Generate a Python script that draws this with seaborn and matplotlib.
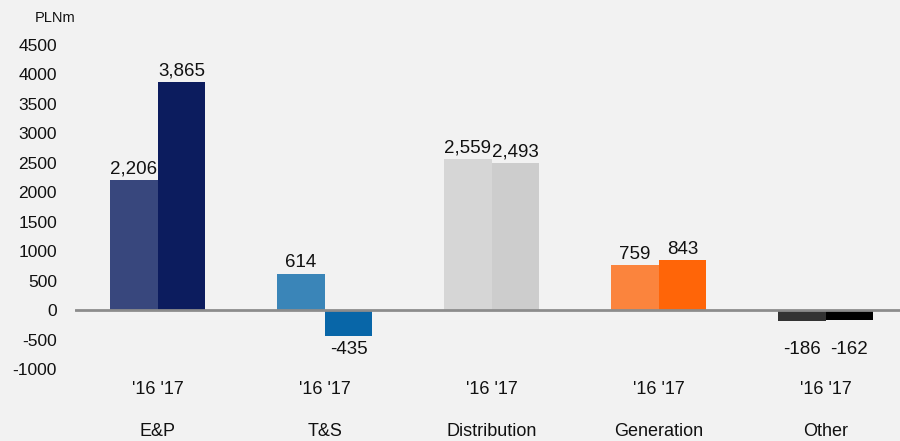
import pandas as pd
import numpy as np
import seaborn as sns
import matplotlib.pyplot as plt

# data (PLNm)
categories = ["E&P", "T&S", "Distribution", "Generation", "Other"]
years = ["'16", "'17"]
values_16 = [2206, 614, 2559, 759, -186]
values_17 = [3865, -435, 2493, 843, -162]
colors_16 = ["#38477D", "#3A85B8", "#D6D6D6", "#FB843D", "#333333"]
colors_17 = ["#0C1C5E", "#0866A8", "#CDCDCD", "#FF6508", "#000000"]
yticks = list(range(-1000, 5000, 500))

df = pd.DataFrame({
    "category": categories * 2,
    "year": [years[0]] * len(categories) + [years[1]] * len(categories),
    "value": values_16 + values_17,
})

sns.set_theme(style="white")
plt.rcParams["font.family"] = ["Liberation Sans", "DejaVu Sans"]
bg = "#F2F2F2"

fig = plt.figure(figsize=(9, 4.41), dpi=100, facecolor=bg)
ax = fig.add_axes([75 / 900, 1 - 369 / 441, 1 - 75 / 900, (369 - 45) / 441])
ax.set_facecolor(bg)

sns.barplot(data=df, x="category", y="value", hue="year", order=categories,
            hue_order=years, width=0.57, gap=0, dodge=True, legend=False,
            errorbar=None, ax=ax, saturation=1)

# recolor each bar individually
for cont, cols in zip(ax.containers, [colors_16, colors_17]):
    for bar, c in zip(cont, cols):
        bar.set_facecolor(c)
        bar.set_edgecolor("none")

# value labels
for cont, vals in zip(ax.containers, [values_16, values_17]):
    for bar, v in zip(cont, vals):
        xc = bar.get_x() + bar.get_width() / 2
        txt = f"{v:,}"
        if v >= 0:
            ax.annotate(txt, (xc, v), xytext=(0, 2), textcoords="offset points",
                        ha="center", va="bottom", fontsize=13.5, color="#111111")
        else:
            ax.text(xc, -520, txt, ha="center", va="top", fontsize=13.5,
                    color="#111111")

ax.axhline(0, color="#8C8C8C", lw=2, zorder=3)

ax.set_ylim(-1000, 4500)
ax.set_xlim(-0.495, 4.445)
ax.set_yticks(yticks)
ax.set_yticklabels([str(t) for t in yticks], fontsize=12.5, color="#111111")
ax.set_xticks(range(len(categories)))
ax.set_xticklabels([" ".join(years)] * len(categories), fontsize=13,
                   color="#111111")
ax.tick_params(axis="y", length=0, pad=13)
ax.tick_params(axis="x", length=0, pad=9)
ax.set_xlabel("")
ax.set_ylabel("")
for s in ax.spines.values():
    s.set_visible(False)

# category names under the year labels, near the bottom edge
for i, name in enumerate(categories):
    ax.annotate(name, (i, 0), xycoords=("data", "figure pixels"),
                xytext=(0, 1), textcoords="offset pixels", ha="center",
                va="bottom", fontsize=13, color="#111111")

fig.text(55 / 900, 1 - 18 / 441, "PLNm", ha="center", va="center",
         fontsize=10.5, color="#111111")

fig.savefig("out.png", dpi=100, facecolor=bg)
